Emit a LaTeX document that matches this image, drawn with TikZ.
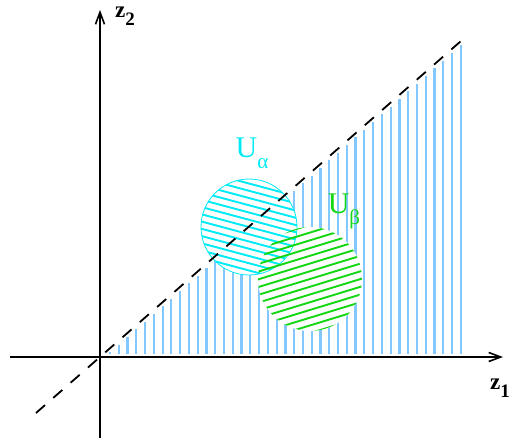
\documentclass[tikz,border=0pt]{standalone}
\usepackage{fontspec}
\setmainfont{Liberation Serif}
\usepackage{xcolor}
\usetikzlibrary{positioning,arrows.meta}

\definecolor{skyhatch}{RGB}{130,200,255}
\definecolor{ualpha}{RGB}{0,235,245}
\definecolor{ubeta}{RGB}{20,215,20}

% lowered index in a given size
\newcommand{\lowidx}[3]{\raisebox{-#2pt}{\fontsize{#1}{#1}\selectfont #3}}

\begin{document}
\begin{tikzpicture}[x=1pt, y=1pt,
        axis/.style={line width=1.6pt, -{Straight Barb[length=12pt, width=9pt]}},
        diag/.style={line width=1.8pt, dash pattern=on 12pt off 11pt},
        vhatch/.style={skyhatch, line width=2.2pt},
        ahatch/.style={ualpha, line width=1.9pt},
        bhatch/.style={ubeta, line width=1.9pt},
        zlabel/.style={font=\fontsize{23}{23}\selectfont\bfseries, inner sep=0pt},
        ulabel/.style={font=\fontsize{30}{30}\selectfont, inner sep=0pt}
    ]
        \useasboundingbox (-100,-83) rectangle (416,357);

        % Axes ends
        \coordinate (O) at (0,0);
        \coordinate (xstart) at (-90,0);
        \coordinate (xend) at (403,0);
        \coordinate (ystart) at (0,-81);
        \coordinate (yend) at (0,347);
        \coordinate (dstart) at (-64,-56);
        \coordinate (dend) at (361,316);

        % Region under the diagonal
        \foreach \k in {0,...,40}
            \draw[vhatch] ({10+8.77*\k},3) -- ({10+8.77*\k},{0.875*(10+8.77*\k)-4});

        % Open sets
        \coordinate (ca) at (149,130);
        \coordinate (cb) at (210,78);
        \fill[white] (ca) circle (48);
        \fill[white] (cb) circle (52);
        \begin{scope}
            \clip (ca) circle (48);
            \begin{scope}[shift={(ca)}, rotate=-15]
                \foreach \k in {-8,...,8}
                    \draw[ahatch] (-70,{7*\k}) -- (70,{7*\k});
            \end{scope}
        \end{scope}
        \draw[ualpha, line width=0.8pt] (ca) circle (48);
        \begin{scope}
            \clip (cb) circle (52);
            \begin{scope}[shift={(cb)}, rotate=17]
                \foreach \k in {-8,...,8}
                    \draw[bhatch] (-70,{7.4*\k}) -- (70,{7.4*\k});
            \end{scope}
        \end{scope}

        % Diagonal
        \draw[diag] (dstart) -- (dend);

        % Axes
        \draw[axis] (xstart) -- (xend);
        \draw[axis] (ystart) -- (yend);

        % Labels
        \node[zlabel] (z1) at (400,-31) {z\lowidx{19}{8}{1}};
        \node[zlabel] (z2) at (25,341) {z\lowidx{19}{8}{2}};
        \node[ulabel, text=ualpha] (Ua) at (152,204) {U\lowidx{21}{11}{α}};
        \node[ulabel, text=ubeta] (Ub) at (244,146) {U\lowidx{21}{11}{β}};
    \end{tikzpicture}
\end{document}
